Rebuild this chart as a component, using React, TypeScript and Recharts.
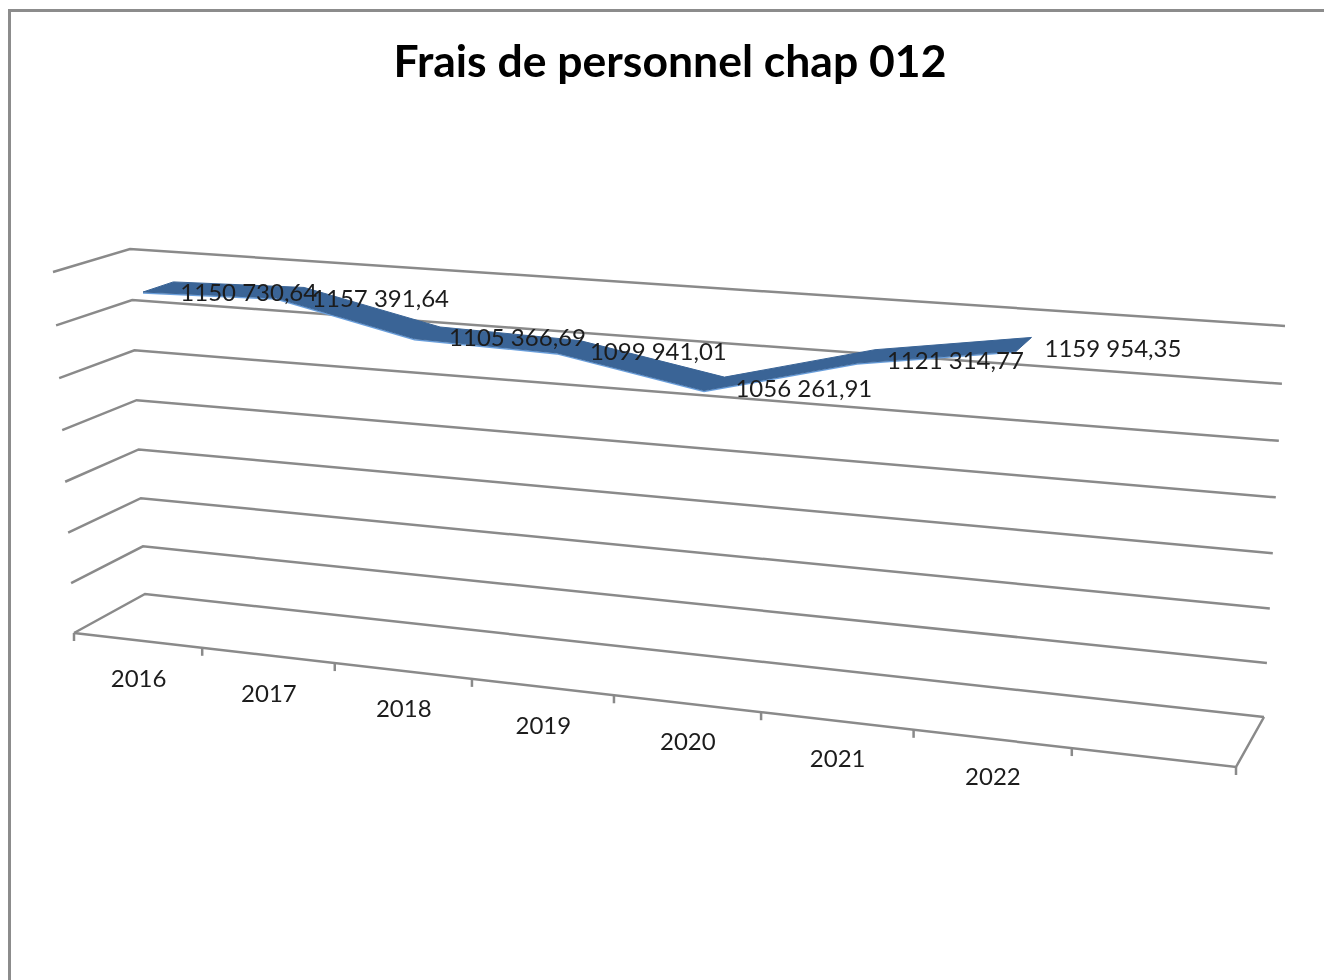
import { LabelList, Line, LineChart, XAxis, YAxis } from "recharts"

const categories = ["2016", "2017", "2018", "2019", "2020", "2021", "2022"]
const amounts = [1150730.64, 1157391.64, 1105366.69, 1099941.01, 1056261.91, 1121314.77, 1159954.35]
const amountLabels = [
  "1150 730,64",
  "1157 391,64",
  "1105 366,69",
  "1099 941,01",
  "1056 261,91",
  "1121 314,77",
  "1159 954,35",
]
// the source chart hides its value axis, these levels are estimated from the gridline spacing
const gridValues = [540000, 632857, 725714, 818571, 911429, 1004286, 1097143, 1190000]
const tickBands = [0, 1, 2, 3, 4, 5, 6, 7, 8]

const BANDS = 8
const VALUE_MIN = gridValues[0]
const VALUE_MAX = gridValues[gridValues.length - 1]
const RIBBON_FRONT = 0.31
const RIBBON_BACK = 0.72
const GRID = "#8a8a8a"
const FONT = "Lato, 'Open Sans', sans-serif"

// corners of the 3D box as seen on the page: [depth][height][side]
const BOX = {
  front: { low: [[74, 633], [1236, 767]], high: [[53, 272], [1259, 361]] },
  back: { low: [[145, 594], [1264, 717]], high: [[130, 249], [1285, 326]] },
}

const mix = (a: number, b: number, t: number) => a + (b - a) * t

// band position -> horizontal fraction, bands get wider towards the viewer
const perspective = (band: number) => {
  const u = band / BANDS
  return u / (1 + 0.152 * (1 - u))
}

function project(band: number, value: number, depth: number) {
  const f = perspective(band)
  const n = (value - VALUE_MIN) / (VALUE_MAX - VALUE_MIN)
  const v = n / (1 + 0.04 * (1 - n))
  const at = (axis: number) => {
    const front = mix(
      mix(BOX.front.low[0][axis], BOX.front.low[1][axis], f),
      mix(BOX.front.high[0][axis], BOX.front.high[1][axis], f),
      v,
    )
    const back = mix(
      mix(BOX.back.low[0][axis], BOX.back.low[1][axis], f),
      mix(BOX.back.high[0][axis], BOX.back.high[1][axis], f),
      v,
    )
    return mix(front, back, depth)
  }
  return { x: at(0), y: at(1) }
}

const gridLines = gridValues.map((value) => [
  project(0, value, 0),
  project(0, value, 1),
  project(BANDS, value, 1),
])
const floorEdge = [
  project(0, VALUE_MIN, 0),
  project(BANDS, VALUE_MIN, 0),
  project(BANDS, VALUE_MIN, 1),
]
const tickLines = tickBands.map((band) => {
  const p = project(band, VALUE_MIN, 0)
  return [p, { x: p.x, y: p.y + 8 }]
})

const ribbonFront = amounts.map((value, i) => project(i + 0.5, value, RIBBON_FRONT))
const ribbonBack = amounts.map((value, i) => project(i + 0.5, value, RIBBON_BACK))
const ribbonOutline = [...ribbonFront, ...[...ribbonBack].reverse()]
const ribbonEdge = ribbonFront.map((p) => ({ x: p.x, y: p.y + 1 }))
const amountPoints = ribbonBack.map((p, i) => ({ ...p, label: amountLabels[i] }))
const categoryPoints = categories.map((label, i) => ({
  ...project(i + 0.5, VALUE_MIN, 0),
  label,
}))

// Line has no fill, so the polygon is drawn once from the scaled points
function RibbonFill(props: any) {
  if (props.index !== 0) return <g key={props.index} />
  const d = props.points.map((p: any, i: number) => `${i ? "L" : "M"}${p.x},${p.y}`).join(" ") + " Z"
  return <path key="ribbon" d={d} fill="#3a6496" stroke="#3a6496" strokeWidth={1} strokeLinejoin="round" />
}

function AmountLabel(props: any) {
  return (
    <text x={props.x + 7 + props.index} y={props.y + 10} dominantBaseline="central" fontSize={24} fontFamily={FONT} fill="#1c1c1c">
      {props.value}
    </text>
  )
}

function CategoryLabel(props: any) {
  return (
    <text x={props.x + 1} y={props.y + 37} textAnchor="middle" dominantBaseline="central" fontSize={24} fontFamily={FONT} fill="#1c1c1c">
      {props.value}
    </text>
  )
}

export default function App() {
  return (
    <div style={{ position: "absolute", left: 0, top: 0, width: 1324, height: 980, overflow: "hidden", background: "#fff" }}>
      <div style={{ position: "absolute", left: 8, top: 9, width: 1330, height: 990, borderLeft: "3px solid #8c8c8c", borderTop: "3px solid #8c8c8c" }} />
      <div style={{ position: "absolute", left: 0, top: 0, filter: "blur(0.5px)" }}>
        <LineChart width={1324} height={980} margin={{ top: 0, right: 0, bottom: 0, left: 0 }}>
          <XAxis type="number" dataKey="x" domain={[0, 1324]} allowDataOverflow hide />
          <YAxis type="number" dataKey="y" domain={[0, 980]} reversed allowDataOverflow hide />

          <text x={670} y={59} textAnchor="middle" dominantBaseline="central" fontSize={44.5} fontWeight={700} fontFamily={FONT} fill="#000">
            Frais de personnel chap 012
          </text>

          {gridLines.map((line, i) => (
            <Line key={`grid-${i}`} data={line} dataKey="y" stroke={GRID} strokeWidth={2.5} dot={false} activeDot={false} isAnimationActive={false} />
          ))}
          <Line data={floorEdge} dataKey="y" stroke={GRID} strokeWidth={2.5} dot={false} activeDot={false} isAnimationActive={false} />
          {tickLines.map((line, i) => (
            <Line key={`tick-${i}`} data={line} dataKey="y" stroke={GRID} strokeWidth={2.5} dot={false} activeDot={false} isAnimationActive={false} />
          ))}

          <Line data={ribbonOutline} dataKey="y" stroke="none" dot={RibbonFill} activeDot={false} isAnimationActive={false} />
          <Line data={ribbonEdge} dataKey="y" stroke="#6a9fdc" strokeWidth={1.5} dot={false} activeDot={false} isAnimationActive={false} />

          <Line data={amountPoints} dataKey="y" stroke="none" dot={false} activeDot={false} isAnimationActive={false}>
            <LabelList dataKey="label" content={AmountLabel} />
          </Line>
          <Line data={categoryPoints} dataKey="y" stroke="none" dot={false} activeDot={false} isAnimationActive={false}>
            <LabelList dataKey="label" content={CategoryLabel} />
          </Line>
        </LineChart>
      </div>
    </div>
  )
}
